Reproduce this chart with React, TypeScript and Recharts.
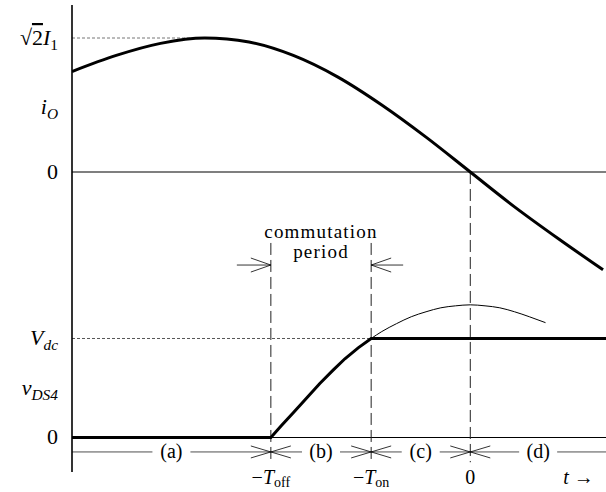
import { ComposedChart, Line, XAxis, YAxis, ReferenceLine, ReferenceDot } from 'recharts';

// time axis in electrical degrees, 0 = zero crossing of i_O
const T_MIN = -135;
const T_MAX = 46;
const T_OFF = -67.6;
const T_ON = -33.6;

// output current i_O, normalised to sqrt(2)*I1
const I_T = [-135, -120, -105, -90, -75, -60, -45, -30, -15, 0, 15, 30, 45];
const I_O = [0.75, 0.87, 0.96, 1.0, 0.97, 0.87, 0.71, 0.5, 0.26, 0, -0.26, -0.5, -0.73];

// v_DS4 normalised to Vdc
const V_T = [-135, T_OFF, -64, -60, -55, -51, -46.5, -42.5, -38, T_ON, 46];
const V_DS4 = [0, 0, 0.12, 0.25, 0.415, 0.545, 0.68, 0.795, 0.905, 1, 1];

// thin arc continuing past -T_on
const ARC_T = [T_ON, -30, -25, -20, -15, -10, -5, 0, 5, 10, 15, 20, 25.5];
const ARC_V = [1.0, 1.07, 1.15, 1.22, 1.27, 1.31, 1.33, 1.34, 1.33, 1.31, 1.27, 1.22, 1.16];

const X_TICKS = [T_OFF, T_ON, 0, 36.7];
const I_TICKS = [1, 0.485, 0];
const V_TICKS = [1, 0.5, 0];
const INTERVALS = ['(a)', '(b)', '(c)', '(d)'];
const BOUNDS = [T_MIN, T_OFF, T_ON, 0, T_MAX];

type Seg = { s: string; it?: boolean; sub?: boolean; over?: boolean };

const X_LABELS: Seg[][] = [
  [{ s: '−' }, { s: 'T', it: true }, { s: 'off', sub: true }],
  [{ s: '−' }, { s: 'T', it: true }, { s: 'on', sub: true }],
  [{ s: '0' }],
  [{ s: 't', it: true }, { s: ' →' }],
];
const I_LABELS: Seg[][] = [
  [{ s: '√' }, { s: '2', over: true }, { s: 'I', it: true }, { s: '1', sub: true }],
  [{ s: 'i', it: true }, { s: 'O', it: true, sub: true }],
  [{ s: '0' }],
];
const V_LABELS: Seg[][] = [
  [{ s: 'V', it: true }, { s: 'dc', it: true, sub: true }],
  [{ s: 'v', it: true }, { s: 'DS4', it: true, sub: true }],
  [{ s: '0' }],
];

const iData = I_T.map((t, i) => ({ t, v: I_O[i] }));
const vData = V_T.map((t, i) => ({ t, v: V_DS4[i] }));
const arcData = ARC_T.map((t, i) => ({ t, v: ARC_V[i] }));

const FONT = '"Liberation Serif", "Times New Roman", serif';
const LABEL_X = 58;
const INTERVAL_V = -0.146;
const ARROW_V = 1.742;
const COMM_V = 2.0;
const DASH_TOP = 1.965;
const DASH_BOT = -0.25;
const ZERO_TOP = 2.682;

function MathText({ x, y, segs, anchor, size = 22, shift = 5 }: { x: number; y: number; segs: Seg[]; anchor: 'start' | 'middle' | 'end'; size?: number; shift?: number }) {
  let prevSub = false;
  return (
    <text x={x} y={y} textAnchor={anchor} style={{ fontFamily: FONT }} fontSize={size} fill="#000">
      {segs.map((g, i) => {
        const sub = !!g.sub;
        const dy = sub && !prevSub ? shift : !sub && prevSub ? -shift : 0;
        prevSub = sub;
        return (
          <tspan
            key={i}
            dy={dy}
            fontStyle={g.it ? 'italic' : 'normal'}
            fontSize={sub ? size * 0.7 : size}
            textDecoration={g.over ? 'overline' : undefined}
          >
            {g.s}
          </tspan>
        );
      })}
    </text>
  );
}

const yTick = (ticks: number[], labels: Seg[][]) => (props: any) => {
  const idx = ticks.indexOf(props.payload.value);
  if (idx < 0) return <g />;
  return <MathText x={LABEL_X} y={props.y + 7} segs={labels[idx]} anchor="end" />;
};

const xTick = (props: any) => {
  const idx = X_TICKS.indexOf(props.payload.value);
  if (idx < 0) return <g />;
  return <MathText x={props.x} y={484} segs={X_LABELS[idx]} anchor="middle" size={20} shift={3} />;
};

const crossMark = (p: any) => (
  <g stroke="#000" strokeWidth={0.8}>
    <line x1={p.cx - 20} y1={p.cy - 6} x2={p.cx + 20} y2={p.cy + 6} />
    <line x1={p.cx - 20} y1={p.cy + 6} x2={p.cx + 20} y2={p.cy - 6} />
  </g>
);

const arrowIn = (p: any) => (
  <g stroke="#000" strokeWidth={0.8}>
    <line x1={p.cx - 34} y1={p.cy} x2={p.cx} y2={p.cy} />
    <line x1={p.cx - 20} y1={p.cy - 7} x2={p.cx} y2={p.cy} />
    <line x1={p.cx - 20} y1={p.cy + 7} x2={p.cx} y2={p.cy} />
  </g>
);

const arrowBack = (p: any) => (
  <g stroke="#000" strokeWidth={0.8}>
    <line x1={p.cx} y1={p.cy} x2={p.cx + 32} y2={p.cy} />
    <line x1={p.cx + 20} y1={p.cy - 7} x2={p.cx} y2={p.cy} />
    <line x1={p.cx + 20} y1={p.cy + 7} x2={p.cx} y2={p.cy} />
  </g>
);

const intervalLabel = (text: string) => (p: any) => (
  <g>
    <rect x={p.cx - 19} y={p.cy - 10} width={38} height={20} fill="#fff" />
    <text x={p.cx} y={p.cy + 6} textAnchor="middle" style={{ fontFamily: FONT }} fontSize={20} fill="#000">
      {text}
    </text>
  </g>
);

const commLabel = (p: any) => (
  <g>
    <text x={p.cx} y={p.cy - 1} textAnchor="middle" style={{ fontFamily: FONT }} fontSize={19} letterSpacing={1.2} fill="#000">
      commutation
    </text>
    <text x={p.cx} y={p.cy + 19} textAnchor="middle" style={{ fontFamily: FONT }} fontSize={19} letterSpacing={1.2} fill="#000">
      period
    </text>
  </g>
);

export default function App() {
  return (
    <div style={{ position: 'absolute', left: 0, top: 0, background: '#fff' }}>
      <ComposedChart width={606} height={492} margin={{ top: 5, right: 0, bottom: 0, left: 0 }}>
        <XAxis
          type="number"
          dataKey="t"
          domain={[T_MIN, T_MAX]}
          allowDataOverflow
          ticks={X_TICKS}
          interval={0}
          axisLine={false}
          tickLine={false}
          height={20}
          tick={xTick}
        />
        <YAxis
          yAxisId="i"
          type="number"
          domain={[-2.2388, 1.2463]}
          allowDataOverflow
          ticks={I_TICKS}
          interval={0}
          width={71}
          axisLine={{ stroke: '#000', strokeWidth: 1.6 }}
          tickLine={false}
          tick={yTick(I_TICKS, I_LABELS)}
        />
        <YAxis
          yAxisId="v"
          type="number"
          domain={[-0.3485, 4.3687]}
          allowDataOverflow
          ticks={V_TICKS}
          interval={0}
          width={1}
          axisLine={false}
          tickLine={false}
          tick={yTick(V_TICKS, V_LABELS)}
        />

        <ReferenceLine yAxisId="i" y={0} stroke="#000" strokeWidth={1.2} />
        <ReferenceLine yAxisId="v" y={0} stroke="#000" strokeWidth={1.2} />
        <ReferenceLine yAxisId="v" y={INTERVAL_V} stroke="#222" strokeWidth={0.8} />
        <ReferenceLine
          yAxisId="i"
          segment={[{ x: T_MIN, y: 1 }, { x: -95, y: 1 }]}
          stroke="#777"
          strokeWidth={1}
          strokeDasharray="3 2"
        />
        <ReferenceLine
          yAxisId="v"
          segment={[{ x: T_MIN, y: 1 }, { x: T_ON, y: 1 }]}
          stroke="#555"
          strokeWidth={1}
          strokeDasharray="3 2"
        />
        <ReferenceLine
          yAxisId="v"
          segment={[{ x: T_OFF, y: DASH_TOP }, { x: T_OFF, y: DASH_BOT }]}
          stroke="#222"
          strokeWidth={1}
          strokeDasharray="12 5"
        />
        <ReferenceLine
          yAxisId="v"
          segment={[{ x: T_ON, y: DASH_TOP }, { x: T_ON, y: DASH_BOT }]}
          stroke="#222"
          strokeWidth={1}
          strokeDasharray="12 5"
        />
        <ReferenceLine
          yAxisId="v"
          segment={[{ x: 0, y: ZERO_TOP }, { x: 0, y: DASH_BOT }]}
          stroke="#222"
          strokeWidth={1}
          strokeDasharray="12 5"
        />

        <Line yAxisId="i" data={iData} dataKey="v" type="monotone" stroke="#000" strokeWidth={3} dot={false} activeDot={false} isAnimationActive={false} />
        <Line yAxisId="v" data={arcData} dataKey="v" type="monotone" stroke="#000" strokeWidth={1} dot={false} activeDot={false} isAnimationActive={false} />
        <Line yAxisId="v" data={vData} dataKey="v" type="linear" stroke="#000" strokeWidth={3} dot={false} activeDot={false} isAnimationActive={false} />

        {INTERVALS.map((lab, i) => (
          <ReferenceDot
            key={lab}
            yAxisId="v"
            x={(BOUNDS[i] + BOUNDS[i + 1]) / 2}
            y={INTERVAL_V}
            shape={intervalLabel(lab)}
          />
        ))}
        {[T_OFF, T_ON, 0].map((t) => (
          <ReferenceDot key={t} yAxisId="v" x={t} y={INTERVAL_V} shape={crossMark} />
        ))}
        <ReferenceDot yAxisId="v" x={T_OFF} y={ARROW_V} shape={arrowIn} />
        <ReferenceDot yAxisId="v" x={T_ON} y={ARROW_V} shape={arrowBack} />
        <ReferenceDot yAxisId="v" x={(T_OFF + T_ON) / 2} y={COMM_V} shape={commLabel} />
      </ComposedChart>
    </div>
  );
}
